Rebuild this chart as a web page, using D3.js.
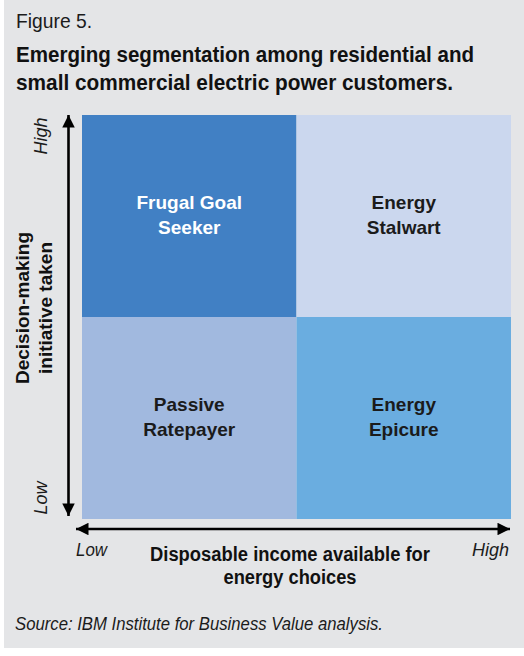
<!DOCTYPE html>
<html>
<head>
<meta charset="utf-8">
<script src="https://cdn.jsdelivr.net/npm/d3@7"></script>
<style>
  body { margin: 0; background: #fff; }
  svg { display: block; }
  text { font-family: "Liberation Sans Narrow", "Arial Narrow", "Liberation Sans", sans-serif; }
</style>
</head>
<body>
<svg id="chart"></svg>
<script>
// chart data
var incomeLevels = ["Low", "High"];        // x axis
var initiativeLevels = ["High", "Low"];    // y axis, top to bottom
var segments = [
  { name: ["Frugal Goal", "Seeker"], income: "Low",  initiative: "High" },
  { name: ["Energy", "Stalwart"],    income: "High", initiative: "High" },
  { name: ["Passive", "Ratepayer"],  income: "Low",  initiative: "Low" },
  { name: ["Energy", "Epicure"],     income: "High", initiative: "Low" }
];
var segmentColors = ["#4180c4", "#cbd7ee", "#a1b9df", "#6aade0"];
var segmentTextColors = ["#ffffff", "#1b1b1b", "#1b1b1b", "#1b1b1b"];

var W = 524, H = 656;

var svg = d3.select("#chart").attr("width", W).attr("height", H);

// squeeze text to the condensed widths of the original
function squeeze(sel, len){
  sel.attr("textLength", len).attr("lengthAdjust", "spacingAndGlyphs");
}

// gray panel
svg.append("rect")
  .attr("x", 4).attr("y", 0)
  .attr("width", W - 4).attr("height", 648)
  .attr("fill", "#e4e5e7");

// titles
svg.append("text")
  .attr("x", 16).attr("y", 28)
  .attr("font-size", 21)
  .attr("fill", "#1b1b1b")
  .text("Figure 5.")
  .call(squeeze, 76);

var titleLines = ["Emerging segmentation among residential and",
                  "small commercial electric power customers."];
var titleWidths = [458, 437];
svg.selectAll(".title")
  .data(titleLines)
  .enter().append("text")
    .attr("class", "title")
    .attr("x", 16)
    .attr("y", function(d, i){ return 62 + i * 28; })
    .attr("font-size", 22)
    .attr("font-weight", "bold")
    .attr("fill", "#111")
    .attr("textLength", function(d, i){ return titleWidths[i]; })
    .attr("lengthAdjust", "spacingAndGlyphs")
    .text(function(d){ return d; });

// scales
var x = d3.scaleBand().domain(incomeLevels).range([82, 511]);
var y = d3.scaleBand().domain(initiativeLevels).range([115, 519]);

var cells = svg.selectAll(".cell")
  .data(segments)
  .enter().append("g")
    .attr("class", "cell");

cells.append("rect")
  .attr("x", function(d){ return x(d.income); })
  .attr("y", function(d){ return y(d.initiative); })
  .attr("width", x.bandwidth())
  .attr("height", y.bandwidth())
  .attr("fill", function(d, i){ return segmentColors[i]; });

cells.each(function(d, i){
  var cx = x(d.income) + x.bandwidth() / 2;
  var cy = y(d.initiative) + y.bandwidth() / 2;
  d3.select(this).selectAll("text")
    .data(d.name)
    .enter().append("text")
      .attr("x", cx)
      .attr("y", function(t, j){ return cy - 7 + j * 25; })
      .attr("text-anchor", "middle")
      .attr("font-size", 19)
      .attr("font-weight", "bold")
      .attr("fill", segmentTextColors[i])
      .text(function(t){ return t; });
});

// arrows
var defs = svg.append("defs");
defs.append("marker")
  .attr("id", "head")
  .attr("viewBox", "0 0 10 10")
  .attr("refX", 10).attr("refY", 5)
  .attr("markerWidth", 6.5).attr("markerHeight", 4.8)
  .attr("markerUnits", "strokeWidth")
  .attr("orient", "auto-start-reverse")
  .append("path")
    .attr("d", "M0,0 L10,5 L0,10 Z")
    .attr("fill", "#000");

svg.append("line")
  .attr("x1", 68.5).attr("y1", 115)
  .attr("x2", 68.5).attr("y2", 516)
  .attr("stroke", "#000").attr("stroke-width", 2.6)
  .attr("marker-start", "url(#head)")
  .attr("marker-end", "url(#head)");

svg.append("line")
  .attr("x1", 76).attr("y1", 529)
  .attr("x2", 510).attr("y2", 529)
  .attr("stroke", "#000").attr("stroke-width", 2.6)
  .attr("marker-start", "url(#head)")
  .attr("marker-end", "url(#head)");

// axis end labels
svg.append("text")
  .attr("transform", "translate(47,136) rotate(-90)")
  .attr("text-anchor", "middle")
  .attr("font-size", 18).attr("font-style", "italic")
  .attr("fill", "#1b1b1b")
  .text(initiativeLevels[0]);

svg.append("text")
  .attr("transform", "translate(47,498) rotate(-90)")
  .attr("text-anchor", "middle")
  .attr("font-size", 18).attr("font-style", "italic")
  .attr("fill", "#1b1b1b")
  .text(initiativeLevels[1]);

svg.append("text")
  .attr("x", 76).attr("y", 556)
  .attr("font-size", 18).attr("font-style", "italic")
  .attr("fill", "#1b1b1b")
  .text(incomeLevels[0])
  .call(squeeze, 31);

svg.append("text")
  .attr("x", 509).attr("y", 556)
  .attr("text-anchor", "end")
  .attr("font-size", 18).attr("font-style", "italic")
  .attr("fill", "#1b1b1b")
  .text(incomeLevels[1]);

// axis titles
var yTitle = ["Decision-making", "initiative taken"];
svg.selectAll(".ytitle")
  .data(yTitle)
  .enter().append("text")
    .attr("class", "ytitle")
    .attr("transform", function(d, i){
      return "translate(" + (29 + i * 23) + ",308) rotate(-90)";
    })
    .attr("text-anchor", "middle")
    .attr("font-size", 19).attr("font-weight", "bold")
    .attr("fill", "#111")
    .text(function(d){ return d; });

var xTitle = ["Disposable income available for", "energy choices"];
var xTitleWidths = [280, 133];
svg.selectAll(".xtitle")
  .data(xTitle)
  .enter().append("text")
    .attr("class", "xtitle")
    .attr("x", 290)
    .attr("y", function(d, i){ return 561 + i * 23; })
    .attr("text-anchor", "middle")
    .attr("font-size", 20).attr("font-weight", "bold")
    .attr("fill", "#111")
    .attr("textLength", function(d, i){ return xTitleWidths[i]; })
    .attr("lengthAdjust", "spacingAndGlyphs")
    .text(function(d){ return d; });

// source
svg.append("text")
  .attr("x", 15).attr("y", 630)
  .attr("font-size", 18).attr("font-style", "italic")
  .attr("fill", "#1b1b1b")
  .text("Source: IBM Institute for Business Value analysis.")
  .call(squeeze, 368);
</script>
</body>
</html>
